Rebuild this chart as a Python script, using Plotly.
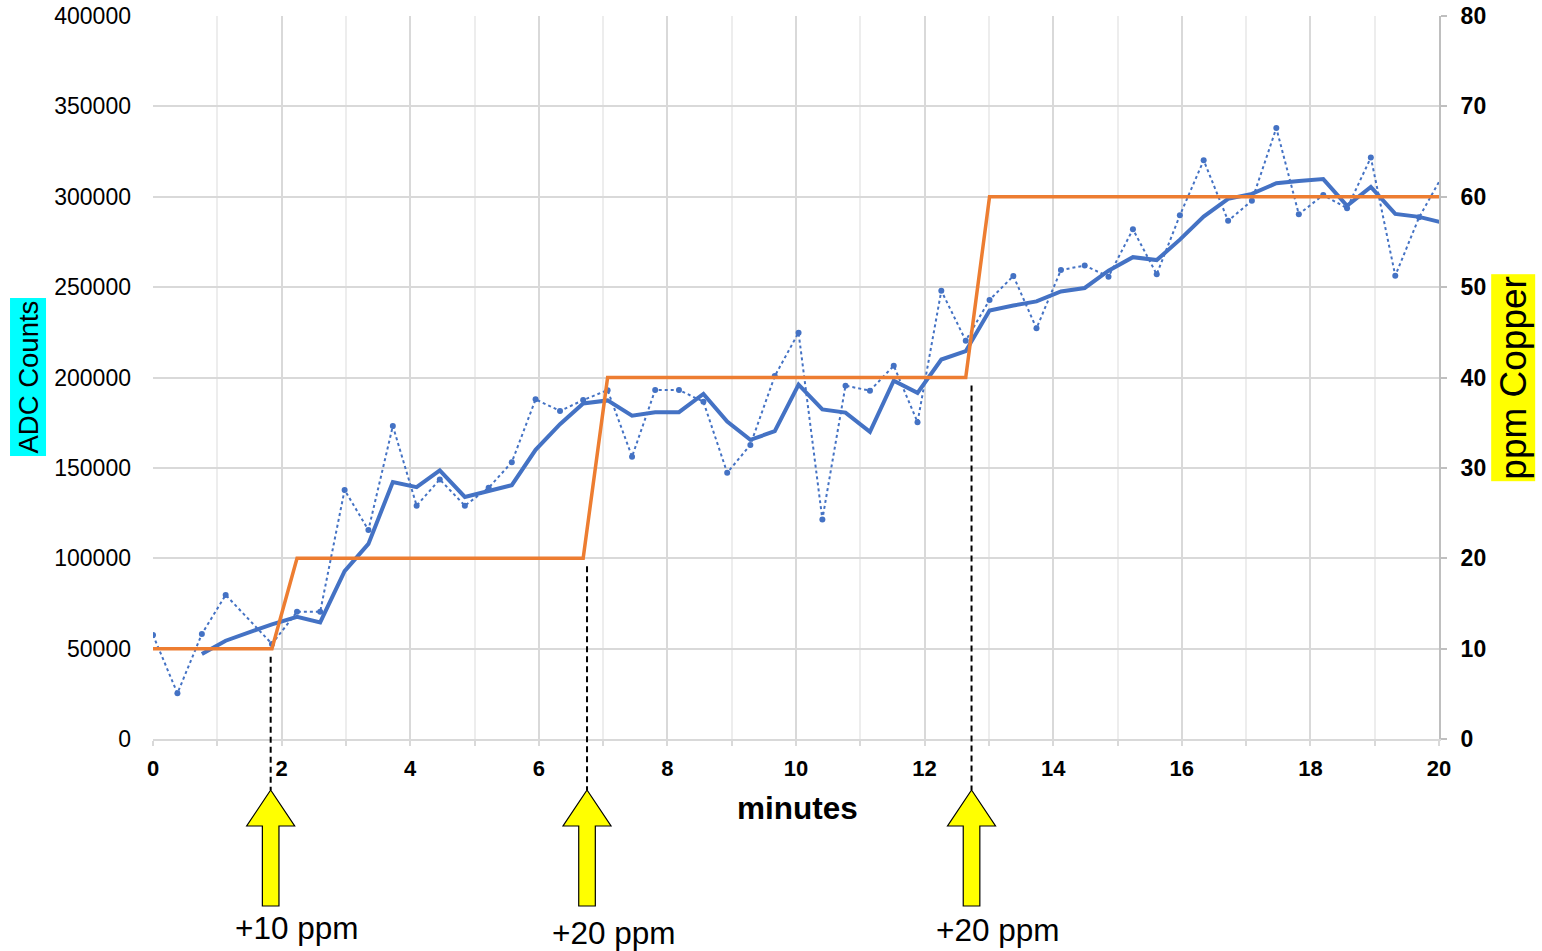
import pandas as pd
import plotly.graph_objects as go

# Sample times (minutes) and raw ADC readings
minutes = [0.00, 0.38, 0.76, 1.13, 1.85, 2.24, 2.60, 2.98, 3.35, 3.73,
           4.10, 4.46, 4.85, 5.22, 5.58, 5.95, 6.33, 6.69, 7.07, 7.45,
           7.81, 8.18, 8.56, 8.93, 9.29, 9.67, 10.04, 10.41, 10.77, 11.15,
           11.52, 11.89, 12.26, 12.64, 13.01, 13.38, 13.74, 14.12, 14.49, 14.86,
           15.24, 15.61, 15.97, 16.34, 16.72, 17.09, 17.47, 17.82, 18.20, 18.57,
           18.94, 19.32, 19.69, 20.06]
adc_counts = [57500, 25300, 58100, 79700, 52600, 70400, 70400, 137800, 115600, 173200,
              129100, 143600, 129100, 139000, 153100, 187900, 181500, 187500, 193000, 156200,
              193100, 193100, 186600, 147300, 162700, 200800, 224800, 121500, 195500, 192700,
              206500, 175300, 248000, 220400, 242900, 256200, 227200, 259500, 261900, 255800,
              282000, 257100, 289700, 320200, 286700, 297800, 338000, 290300, 301000, 293600,
              321700, 256300, 288600, 312000]

# Copper concentration profile (ppm)
ppm_minutes = [0.00, 1.85, 2.24, 6.69, 7.07, 12.64, 13.01, 20.06]
ppm_copper = [10, 10, 20, 20, 40, 40, 60, 60]

# Copper additions
event_minutes = [1.83, 6.75, 12.73]
event_levels = [10, 20, 40]
event_labels = ["+10 ppm", "+20 ppm", "+20 ppm"]
label_offsets = [-0.2614, -0.2683, -0.2642]

FONT = "Liberation Sans, Arial, sans-serif"
BLUE = "#4472C4"
ORANGE = "#ED7D31"

# 3-period moving-average trendline of the raw readings
moving_avg = pd.Series(adc_counts).rolling(3).mean()

W, H = 1542, 951
ML, MR, MT, MB = 153, 103, 16, 212
PW, PH = W - ML - MR, H - MT - MB
X_MAX = 20

fig = go.Figure()
fig.add_trace(go.Scatter(
    x=minutes, y=adc_counts, mode="lines+markers",
    line=dict(color=BLUE, width=2, dash="dot"),
    marker=dict(color=BLUE, size=6), showlegend=False))
fig.add_trace(go.Scatter(
    x=minutes, y=moving_avg, mode="lines",
    line=dict(color=BLUE, width=4), showlegend=False))
fig.add_trace(go.Scatter(
    x=ppm_minutes, y=ppm_copper, mode="lines", yaxis="y2",
    line=dict(color=ORANGE, width=3.5), showlegend=False))


def px_x(dx):
    return dx / PW


def px_y(dy):
    return dy / PH


shapes = []
annotations = []
for t, lvl, text, ly in zip(event_minutes, event_levels, event_labels, label_offsets):
    xc = t / X_MAX
    tip = -px_y(51)
    base = -px_y(87)
    bottom = -px_y(167)
    hw = px_x(24)
    sw = px_x(8.3)
    # dashed marker from the step level down to the arrow
    shapes.append(dict(type="line", xref="paper", yref="paper",
                       x0=xc, x1=xc, y0=lvl / 80 - px_y(8), y1=tip,
                       line=dict(color="black", width=2, dash="6px,4px")))
    path = (f"M {xc},{tip} L {xc + hw},{base} L {xc + sw},{base} "
            f"L {xc + sw},{bottom} L {xc - sw},{bottom} L {xc - sw},{base} "
            f"L {xc - hw},{base} Z")
    shapes.append(dict(type="path", xref="paper", yref="paper", path=path,
                       fillcolor="#FFFF00", line=dict(color="black", width=1.2)))
    annotations.append(dict(xref="paper", yref="paper", x=xc, y=ly, xshift=26,
                            text=text, showarrow=False,
                            font=dict(family=FONT, size=31.5, color="black"),
                            xanchor="center", yanchor="middle"))

annotations += [
    dict(xref="paper", yref="paper", x=0.5008, y=-0.0954, text="<b>minutes</b>",
         showarrow=False, font=dict(family=FONT, size=31.5, color="black"),
         xanchor="center", yanchor="middle"),
    dict(xref="paper", yref="paper", x=-0.0968, y=0.5007, text="ADC Counts",
         showarrow=False, textangle=-90, bgcolor="#00FFFF", borderpad=2,
         font=dict(family=FONT, size=27.5, color="black"),
         xanchor="center", yanchor="middle"),
    dict(xref="paper", yref="paper", x=1.0573, y=0.4993, text="ppm Copper",
         showarrow=False, textangle=-90, bgcolor="#FFFF00", borderpad=1,
         font=dict(family=FONT, size=37, color="black"),
         xanchor="center", yanchor="middle"),
]

fig.update_layout(
    width=W, height=H,
    margin=dict(l=ML, r=MR, t=MT, b=MB, pad=0, autoexpand=False),
    paper_bgcolor="white", plot_bgcolor="white",
    font=dict(family=FONT, color="black"),
    xaxis=dict(range=[0, X_MAX], dtick=2, tick0=0, automargin=False,
               showgrid=True, gridcolor="#D9D9D9", gridwidth=2,
               zeroline=False, showline=True, linecolor="#D9D9D9", linewidth=2,
               ticks="outside", ticklen=5, tickcolor="#D9D9D9", tickwidth=2,
               ticklabelstandoff=4,
               tickfont=dict(family=FONT, size=22, color="black", weight="bold"),
               minor=dict(dtick=1, showgrid=True, gridcolor="#EDEDED", gridwidth=2,
                          ticks="outside", ticklen=5, tickcolor="#D9D9D9", tickwidth=2)),
    yaxis=dict(range=[0, 400000], dtick=50000, tickformat="d", automargin=False,
               showgrid=True, gridcolor="#D9D9D9", gridwidth=2,
               zeroline=False, showline=False, ticks="",
               ticklabelstandoff=21,
               tickfont=dict(family=FONT, size=23, color="black")),
    yaxis2=dict(range=[0, 80], dtick=10, overlaying="y", side="right",
                automargin=False,
                showgrid=False, zeroline=False,
                showline=True, linecolor="#BFBFBF", linewidth=2,
                ticks="outside", ticklen=6, tickcolor="#BFBFBF", tickwidth=2,
                ticklabelstandoff=9,
                tickfont=dict(family=FONT, size=23, color="black", weight="bold")),
    shapes=shapes,
    annotations=annotations,
)

fig.write_html("out.html")
